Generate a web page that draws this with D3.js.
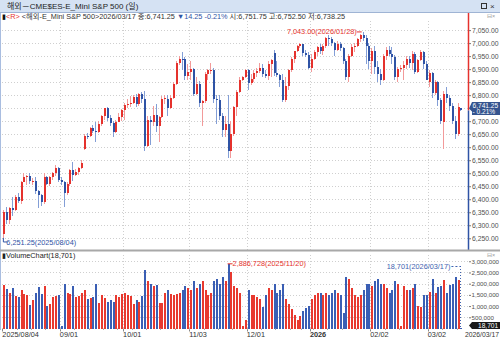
<!DOCTYPE html>
<html><head><meta charset="utf-8">
<script src="https://cdn.jsdelivr.net/npm/d3@7"></script>
<style>
body{margin:0;background:#fff}
svg{display:block}
text{font-family:"Liberation Sans","Noto Sans CJK KR",sans-serif}
</style>
</head><body>
<svg id="c" width="500" height="340"></svg>
<script>
// ---------- DATA ----------
const startDate = "2025-08-04", endDate = "2026-03-17";
const holidays = ["2025-12-25", "2026-01-01"];
const open = [6265,6350,6320,6365,6360,6410,6393,6466,6487,6488,6469,6470,6430,6415,6390,6487,6459,6485,6500,6520,
6475,6465,6425,6458,6512,6492,6505,6522,6595,6645,6642,6672,6663,6657,6688,6720,6749,6712,6693,6660,6698,6716,
6743,6763,6767,6768,6792,6766,6805,6787,6604,6706,6696,6723,6681,6716,6787,6787,6751,6790,6843,6925,6940,6938,6872,
6890,6900,6805,6844,6768,6777,6880,6895,6898,6785,6782,6720,6665,6690,6586,6651,6753,6814,6860,6870,
6895,6848,6864,6885,6892,6905,6880,6875,6920,6961,6887,6877,6860,6781,6835,6895,6938,6968,6990,6995,6963,6953,
6903,6940,6965,6985,6970,6990,7020,7015,7000,6975,6995,6980,6930,6870,6950,6985,6990,7015,7030,7020,6990,
6930,6970,6910,6880,6860,6950,6975,6960,6945,6870,6900,6905,6915,6940,6925,6960,6890,6935,6965,6920,
6850,6885,6810,6850,6780,6695,6805,6790,6760,6700,6650,6751.75];
const high = [6360,6370,6370,6410,6415,6425,6470,6500,6495,6500,6480,6485,6435,6420,6500,6490,6490,6505,6530,6525,
6485,6470,6465,6515,6545,6515,6525,6550,6650,6655,6678,6685,6695,6700,6725,6752,6755,6725,6700,6705,6730,6748,
6770,6785,6795,6800,6805,6810,6812,6815,6720,6720,6760,6765,6720,6795,6800,6800,6800,6850,6930,6950,6965,6945,6920,
6930,6905,6870,6855,6780,6890,6900,6925,6905,6800,6800,6730,6720,6800,6700,6760,6820,6870,6875,6900,
6900,6880,6895,6905,6925,6920,6895,6930,6940,6975,6930,6880,6880,6870,6900,6945,6970,6992,7000,6998,6975,6965,
6960,6975,6990,6995,6995,7025,7030,7025,7005,7010,7005,6985,6940,6960,6995,7000,7020,7035,7043,7030,7000,
6980,6990,6930,6900,6960,6985,6990,6985,6955,6910,6915,6930,6950,6950,6970,6965,6940,6975,6970,6930,
6895,6890,6860,6855,6790,6815,6830,6800,6770,6720,6770,6752.5];
const low = [6251.25,6305,6305,6335,6355,6385,6380,6466,6455,6460,6455,6420,6365,6375,6380,6455,6450,6475,6490,6465,
6455,6370,6415,6450,6470,6490,6495,6515,6590,6632,6640,6655,6620,6655,6680,6705,6700,6680,6640,6655,6695,6700,
6705,6750,6755,6765,6755,6760,6770,6585,6600,6610,6680,6660,6620,6712,6765,6720,6745,6785,6840,6915,6895,6860,6860,
6860,6795,6800,6755,6680,6770,6860,6880,6770,6690,6705,6640,6640,6560,6560,6645,6720,6810,6855,6865,
6820,6840,6850,6870,6885,6870,6865,6860,6870,6875,6870,6830,6775,6775,6820,6890,6925,6965,6980,6950,6948,6900,
6890,6935,6950,6960,6955,6980,6990,6990,6950,6970,6970,6920,6860,6850,6945,6965,6985,7005,7010,6920,6900,
6880,6880,6850,6840,6855,6935,6950,6920,6860,6850,6890,6860,6900,6905,6895,6880,6885,6930,6900,6860,
6830,6790,6800,6760,6690,6595,6770,6740,6690,6630,6645,6738.25];
const close = [6350,6320,6365,6360,6410,6393,6466,6487,6488,6469,6470,6430,6415,6390,6487,6459,6485,6500,6520,6475,
6465,6425,6458,6512,6492,6505,6522,6540,6645,6642,6672,6663,6657,6688,6720,6749,6712,6693,6660,6698,6716,6743,
6763,6767,6768,6792,6766,6805,6787,6604,6706,6696,6723,6681,6716,6787,6788,6751,6790,6843,6925,6940,6938,6872,6890,
6900,6805,6844,6768,6777,6880,6895,6898,6785,6782,6720,6665,6690,6586,6651,6753,6814,6860,6870,6895,
6848,6864,6885,6892,6905,6880,6875,6920,6935,6887,6877,6860,6781,6835,6895,6938,6968,6990,6995,6963,6953,6903,
6940,6965,6985,6970,6990,7020,7015,7000,6975,6995,6980,6930,6870,6950,6985,6990,7015,7030,7020,6990,6930,
6970,6910,6880,6860,6950,6975,6960,6945,6870,6900,6905,6915,6940,6925,6960,6890,6935,6965,6920,6860,
6885,6810,6850,6780,6700,6805,6790,6760,6700,6650,6755,6741.25];
const volume = [1950000,1750000,1600000,1800000,1450000,1400000,1700000,1550000,1500000,1050000,1250000,1600000,1850000,1550000,1900000,1000000,1100000,1400000,1450000,1500000,
120000,2000000,1600000,1550000,1900000,1400000,1450000,1600000,1700000,1300000,1350000,1400000,2000000,1150000,1500000,1350000,1200000,1250000,1200000,1500000,1400000,1550000,
1600000,1500000,1450000,1100000,1250000,1200000,1450000,2600000,2100000,2000000,1900000,1950000,1150000,1150000,1600000,1700000,1550000,1500000,1550000,1600000,1700000,1900000,1800000,
1700000,2100000,1800000,2000000,2100000,1700000,1500000,1600000,2100000,2200000,2000000,2300000,2100000,2886728,2500000,1900000,1800000,1600000,100000,400000,
1700000,1500000,1500000,1400000,1300000,950000,1500000,1800000,1700000,2000000,1600000,1700000,2000000,1300000,1100000,850000,600000,400000,550000,800000,900000,1000000,
1300000,1500000,1600000,1600000,1500000,1600000,1500000,1600000,1700000,1600000,1500000,700000,2300000,2200000,1800000,1500000,1400000,1500000,1700000,2000000,2000000,
1900000,2100000,2200000,2000000,2000000,1800000,1600000,1700000,2100000,2000000,100000,1900000,1700000,1700000,1800000,2000000,1000000,950000,1500000,1500000,
1630000,2200000,1600000,1850000,1900000,2150000,1570000,1950000,2000000,2280000,2150000,18701];
const priceTicks = [6250,6300,6350,6400,6450,6500,6550,6600,6650,6700,6750,6800,6850,6900,6950,7000,7050];
const volTicks = [500000,1000000,1500000,2000000,2500000,3000000];
const monthLabels = ["2025/08/04","09/01","10/01","11/03","12/01","2026","02/02","03/02"];

// ---------- DATES (weekday trading calendar) ----------
const fmt = d3.timeFormat("%Y-%m-%d");
const dates = d3.timeDay.range(new Date(startDate+"T00:00"), d3.timeDay.offset(new Date(endDate+"T00:00"),1))
  .filter(d => d.getDay()!==0 && d.getDay()!==6 && !holidays.includes(fmt(d)));
const data = dates.map((d,i)=>({d, i, o:open[i], h:high[i], l:low[i], c:close[i], v:volume[i]}));

// ---------- LAYOUT ----------
const svg = d3.select("#c");
const W = 500, axisX = 468;
const pTop = 21, pBot = 250, vTop = 255, vBot = 328.5;
const RED = "#e5322d", BLUE = "#2f53a5", RED_W = "#f29a9a", BLUE_W = "#839ed6";
const LBL = "#505050";

const x = d3.scaleBand().domain(d3.range(data.length)).range([1.5, 1.5 + 2.88*data.length]).padding(0.3);
const cx = i => x(i) + x.bandwidth()/2;
const y = d3.scaleLinear().domain([6205, 7085]).range([pBot, pTop]);
const yv = d3.scaleLinear().domain([0, 3280000]).range([vBot, vTop]);

// title bar
svg.append("rect").attr("x",0).attr("y",0).attr("width",W).attr("height",12).attr("fill","#d5e2f3");
svg.append("line").attr("x1",0).attr("x2",W).attr("y1",12.5).attr("y2",12.5).attr("stroke","#9fb4d4");
svg.append("text").attr("x",7).attr("y",9).attr("font-size",8).attr("fill","#222").text("해외－CME$ES-E_Mini S&P 500 (일)");
svg.append("rect").attr("x",481.5).attr("y",3.5).attr("width",5).attr("height",5).attr("fill","none").attr("stroke","#333");
svg.append("text").attr("x",490).attr("y",9).attr("font-size",8).attr("fill","#333").text("×");

// left border
svg.append("line").attr("x1",0.5).attr("x2",0.5).attr("y1",13).attr("y2",330).attr("stroke","#a9bde0");

// info line
const info = svg.append("text").attr("x",2).attr("y",19).attr("font-size",7.3).attr("fill","#333");
info.append("tspan").attr("fill","#111").text("▮");
info.append("tspan").attr("fill",RED).text("<R>");
info.append("tspan").text(" <해외-E_Mini S&P 500>2026/03/17 종:6,741.25 ");
info.append("tspan").attr("fill",BLUE).text("▼14.25  -0.21% ");
info.append("tspan").text("시:6,751.75 고:6,752.50 저:6,738.25");
svg.append("text").attr("x",487).attr("y",18).attr("font-size",5.5).attr("fill","#999").text("⊟×");

// price grid
svg.append("g").selectAll("line").data(priceTicks).join("line")
  .attr("x1",2).attr("x2",axisX).attr("y1",d=>Math.round(y(d))+0.5).attr("y2",d=>Math.round(y(d))+0.5)
  .attr("stroke","#cfcfcf").attr("stroke-dasharray","1,2");
// month boundary grid
const monthStarts = data.filter((d,i)=> i===0 || d.d.getMonth()!==data[i-1].d.getMonth());
svg.append("g").selectAll("line").data(monthStarts.slice(1)).join("line")
  .attr("x1",d=>Math.round(x(d.i))+0.5).attr("x2",d=>Math.round(x(d.i))+0.5).attr("y1",pTop).attr("y2",pBot)
  .attr("stroke","#cfcfcf").attr("stroke-dasharray","1,2");
svg.append("g").selectAll("line").data(monthStarts.slice(1)).join("line")
  .attr("x1",d=>Math.round(x(d.i))+0.5).attr("x2",d=>Math.round(x(d.i))+0.5).attr("y1",vTop).attr("y2",vBot)
  .attr("stroke","#cfcfcf").attr("stroke-dasharray","1,2");

// candles
const cg = svg.append("g").attr("shape-rendering","crispEdges");
cg.selectAll("line").data(data).join("line")
  .attr("x1",d=>Math.round(cx(d.i))+0.5).attr("x2",d=>Math.round(cx(d.i))+0.5)
  .attr("y1",d=>y(d.h)).attr("y2",d=>y(d.l))
  .attr("stroke",d=>d.c>=d.o?RED_W:BLUE_W);
cg.selectAll("rect").data(data).join("rect")
  .attr("x",d=>Math.round(cx(d.i))-0.5).attr("width",2)
  .attr("y",d=>y(Math.max(d.o,d.c))).attr("height",d=>Math.max(1,Math.abs(y(d.o)-y(d.c))))
  .attr("fill",d=>d.c>=d.o?RED:BLUE);

// price axis
const last = data[data.length-1];
const yLast = y(last.c);
svg.append("line").attr("x1",axisX+0.5).attr("x2",axisX+0.5).attr("y1",13).attr("y2",yLast).attr("stroke",RED).attr("stroke-width",1.5);
svg.append("line").attr("x1",axisX+0.5).attr("x2",axisX+0.5).attr("y1",yLast).attr("y2",pBot).attr("stroke",BLUE).attr("stroke-width",1.5);
const pAxis = d3.axisRight(y).tickValues(priceTicks.filter(t=>Math.abs(y(t)-(yLast-2))>8)).tickSize(2).tickFormat(d3.format(",.2f"));
const pa = svg.append("g").attr("transform",`translate(${axisX+1},0)`).call(pAxis);
pa.select(".domain").remove();
pa.selectAll("text").attr("font-size",6.8).attr("fill",LBL).attr("x",3);
pa.selectAll("line").attr("stroke","#777");

// current price tag
const tag = svg.append("g").attr("transform",`translate(${axisX+1},0)`);
tag.append("path").attr("d",`M0,${yLast-2} L3,${yLast-8.5} L31,${yLast-8.5} L31,${yLast+4.5} L3,${yLast+4.5} L3,${yLast+1} Z`).attr("fill","#35548f");
tag.append("text").attr("x",3.5).attr("y",yLast-2.2).attr("font-size",6.6).attr("fill","#fff").text("6,741.25");
tag.append("text").attr("x",3.5).attr("y",yLast+3.6).attr("font-size",6.6).attr("fill","#fff").text("- 0.21%");

// max / min annotations
const maxD = data.reduce((a,b)=>b.h>a.h?b:a);
const minD = data.reduce((a,b)=>b.l<a.l?b:a);
const tf = d3.timeFormat("%Y/%m/%d");
svg.append("line").attr("x1",cx(maxD.i)-6).attr("x2",cx(maxD.i)-1).attr("y1",y(maxD.h)).attr("y2",y(maxD.h)).attr("stroke",RED);
svg.append("text").attr("x",cx(maxD.i)-6).attr("y",y(maxD.h)+2.5).attr("text-anchor","end").attr("font-size",7.3).attr("fill",RED)
  .text(d3.format(",.2f")(maxD.h)+"("+tf(maxD.d)+")");
svg.append("path").attr("d",`M${cx(minD.i)},${y(minD.l)} L${cx(minD.i)},${y(minD.l)+4} L${cx(minD.i)+4},${y(minD.l)+4}`).attr("fill","none").attr("stroke",BLUE);
svg.append("text").attr("x",cx(minD.i)+3).attr("y",y(minD.l)+7).attr("font-size",7.3).attr("fill",BLUE)
  .text(d3.format(",.2f")(minD.l)+"("+tf(minD.d)+")");

// panel separator
svg.append("rect").attr("x",0).attr("y",249.5).attr("width",W).attr("height",2).attr("fill","#a8a8a8");

// volume panel label
const vl = svg.append("text").attr("x",2).attr("y",258).attr("font-size",7.3).attr("fill","#222");
vl.append("tspan").text("▮");
vl.append("tspan").text("VolumeChart(18,701)");
svg.append("text").attr("x",487).attr("y",257).attr("font-size",5.5).attr("fill","#999").text("⊟×");

// volume grid
svg.append("g").selectAll("line").data(volTicks).join("line")
  .attr("x1",2).attr("x2",axisX).attr("y1",d=>Math.round(yv(d))+0.5).attr("y2",d=>Math.round(yv(d))+0.5)
  .attr("stroke","#cfcfcf").attr("stroke-dasharray","1,2");

// volume bars
svg.append("g").attr("shape-rendering","crispEdges").selectAll("rect").data(data).join("rect")
  .attr("x",d=>Math.round(cx(d.i))-0.5).attr("width",2)
  .attr("y",d=>yv(d.v)).attr("height",d=>vBot-yv(d.v))
  .attr("fill",d=>d.c>=d.o?"#e8392f":"#3a5eb4");

// volume axis
const vAxis = d3.axisRight(yv).tickValues(volTicks).tickSize(2).tickFormat(d3.format(","));
const va = svg.append("g").attr("transform",`translate(${axisX+1},0)`).call(vAxis);
va.select(".domain").remove();
va.selectAll("text").attr("font-size",6.2).attr("fill",LBL).attr("x",2.5);
va.selectAll("line").attr("stroke","#777");

// volume annotations
const maxV = data.reduce((a,b)=>b.v>a.v?b:a);
svg.append("line").attr("x1",cx(maxV.i)).attr("x2",cx(maxV.i)+5).attr("y1",yv(maxV.v)).attr("y2",yv(maxV.v)).attr("stroke",RED);
svg.append("text").attr("x",cx(maxV.i)+5).attr("y",yv(maxV.v)+2.5).attr("font-size",7.3).attr("fill",RED)
  .text(d3.format(",")(maxV.v)+"("+tf(maxV.d)+")");
const lv = last;
svg.append("text").attr("x",cx(lv.i)-10).attr("y",268.5).attr("text-anchor","end").attr("font-size",7.3).attr("fill","#3f63b0")
  .text(d3.format(",")(lv.v)+"("+tf(lv.d)+")");
svg.append("line").attr("x1",cx(lv.i)-9).attr("x2",cx(lv.i)).attr("y1",266.5).attr("y2",266.5).attr("stroke","#3f63b0").attr("stroke-dasharray","2,2");
svg.append("line").attr("x1",Math.round(cx(lv.i))+0.5).attr("x2",Math.round(cx(lv.i))+0.5).attr("y1",266).attr("y2",vBot).attr("stroke","#3f63b0").attr("stroke-dasharray","1,2");
const vtag = svg.append("g").attr("transform",`translate(${axisX+1},${vBot-3})`);
vtag.append("path").attr("d","M0,0 L3,-3.5 L31,-3.5 L31,3.5 L3,3.5 Z").attr("fill","#1a1a1a");
vtag.append("text").attr("x",9).attr("y",2.4).attr("font-size",6.6).attr("fill","#fff").text("18,701");

// x axis labels
const xl = svg.append("g");
monthStarts.forEach((m,k)=>{
  xl.append("line").attr("x1",Math.round(x(m.i))+0.5).attr("x2",Math.round(x(m.i))+0.5).attr("y1",vBot).attr("y2",vBot+3).attr("stroke","#888");
  xl.append("text").attr("x",x(m.i)).attr("y",337).attr("font-size",7.3).attr("fill","#333")
    .attr("font-weight",monthLabels[k]==="2026"?"bold":"normal").text(monthLabels[k]);
});
data.filter((d,i)=> i>0 && d.d.getDay()===1).forEach(d=>{
  xl.append("line").attr("x1",Math.round(x(d.i))+0.5).attr("x2",Math.round(x(d.i))+0.5).attr("y1",vBot).attr("y2",vBot+1.5).attr("stroke","#aaa");
});
xl.append("text").attr("x",W-1).attr("y",337).attr("text-anchor","end").attr("font-size",6.8).attr("fill","#333").text(tf(last.d));
</script>
</body></html>
